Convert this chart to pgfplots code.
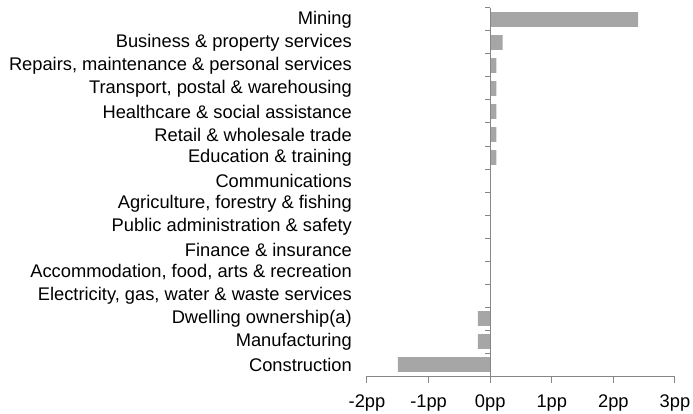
\documentclass[border=0pt]{standalone}
\usepackage{fontspec}
\setmainfont{Liberation Sans}
\usepackage{pgfplots}
\pgfplotsset{compat=1.18}
\definecolor{axisgray}{HTML}{868686}
\definecolor{bargray}{HTML}{A6A6A6}
\begin{document}
\begin{tikzpicture}
\useasboundingbox (-367pt,-38pt) rectangle (326pt,376pt);
\begin{axis}[
  at={(0,0)}, anchor=south west,
  scale only axis, width=308pt, height=368pt,
  xmin=-2, xmax=3, ymin=-0.5, ymax=15.5,
  y dir=reverse,
  xbar, bar width=0.65, bar shift=0pt,
  axis x line*=bottom, axis y line*=left,
  y axis line style={draw=none},
  x axis line style={draw=axisgray, line width=1pt, -},
  xtick={-2,-1,0,1,2,3},
  xticklabels={-2pp,-1pp,0pp,1pp,2pp,3pp},
  ytick={0,...,15},
  yticklabels={Mining, Business \& property services, {Repairs, maintenance \& personal services}, {Transport, postal \& warehousing}, Healthcare \& social assistance, Retail \& wholesale trade, Education \& training, Communications, {Agriculture, forestry \& fishing}, Public administration \& safety, Finance \& insurance, {Accommodation, food, arts \& recreation}, {Electricity, gas, water \& waste services}, Dwelling ownership(a), Manufacturing, Construction},
  tick align=outside,
  major tick length=7pt,
  x tick style={draw=axisgray, line width=1pt},
  y tick style={draw=none},
  tick label style={font=\fontsize{18.3}{22}\selectfont, inner sep=0pt},
  yticklabel style={anchor=east, xshift=-8pt},
  xticklabel style={anchor=north, yshift=-12pt},
  clip=false,
]
\addplot[fill=bargray, draw=none] coordinates {
  (2.4,0) (0.2,1) (0.1,2) (0.1,3) (0.1,4) (0.1,5) (0.1,6)
  (0,7) (0,8) (0,9) (0,10) (0,11) (0,12)
  (-0.2,13) (-0.2,14) (-1.5,15)
};
\draw[axisgray, line width=1pt] (axis cs:0,-0.5) -- (axis cs:0,15.5);
\pgfplotsinvokeforeach{-0.5,0.5,...,14.5}{
  \draw[axisgray, line width=1pt] (axis cs:0,#1) -- ([xshift=-5pt]axis cs:0,#1);
}
\end{axis}
\end{tikzpicture}
\end{document}
